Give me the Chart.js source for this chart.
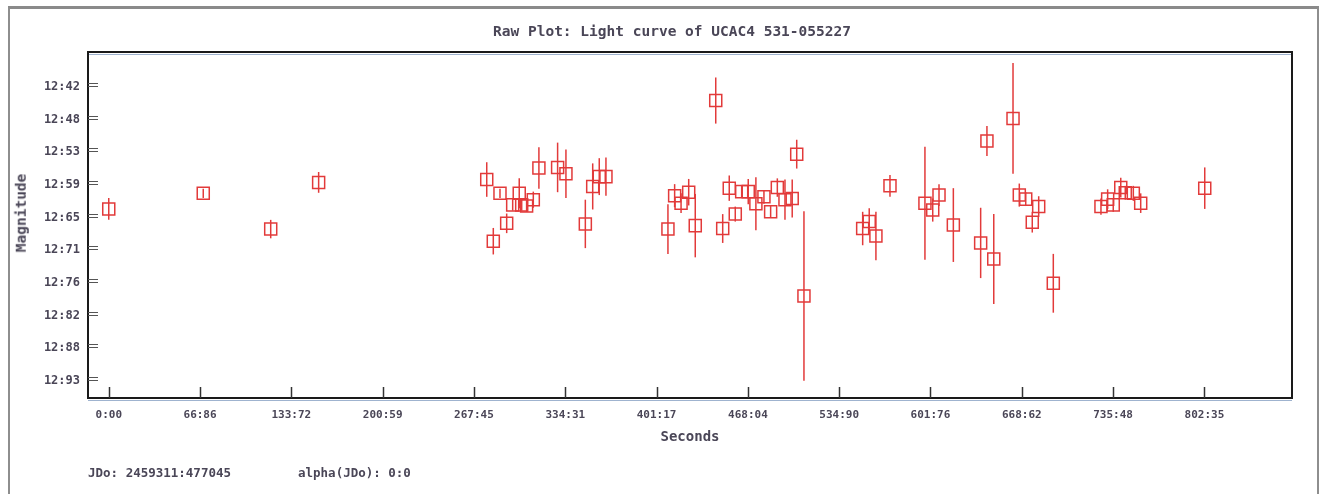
<!DOCTYPE html>
<html>
<head>
<meta charset="utf-8">
<script src="https://cdn.jsdelivr.net/npm/chart.js@4.4.1/dist/chart.umd.min.js"></script>
<style>
  html, body { margin: 0; padding: 0; background: #fff; }
  #wrap { position: relative; width: 1336px; height: 494px; overflow: hidden; }
  #frame { position: absolute; left: 8px; top: 6px; width: 1307px; height: 520px;
           border: 2px solid #8e8e8e; border-top: 3px solid #8a8a8a; }
  #chart { position: absolute; left: 0; top: 0; }
  .txt { position: absolute; font-family: "DejaVu Sans Mono", monospace; font-weight: bold;
         color: #4a4657; white-space: nowrap; }
  #title { left: 0; width: 1344px; top: 23px; text-align: center; font-size: 14.5px; }
  #ytitle { left: 21px; top: 213px; font-size: 14.5px; line-height: 1;
            transform: translate(-50%, -50%) rotate(-90deg); }
  #jd { left: 88px; top: 465px; font-size: 12.5px; }
  #alpha { left: 298px; top: 465px; font-size: 12.5px; }
</style>
</head>
<body>
<div id="wrap">
  <div id="frame"></div>
  <canvas id="chart" width="1336" height="494"></canvas>
  <div class="txt" id="title">Raw Plot: Light curve of UCAC4 531-055227</div>
  <div class="txt" id="ytitle">Magnitude</div>
  <div class="txt" id="jd">JDo: 2459311:477045</div>
  <div class="txt" id="alpha">alpha(JDo): 0:0</div>
</div>
<script>
// observation times (seconds from JDo)
const times = [
  0, 69.2, 118.6, 153.7, 276.8, 281.6, 286.5, 291.4, 295.8, 300.6,
  302.4, 306.0, 310.9, 315.0, 328.7, 334.8, 349.0, 354.4, 359.2, 364.1,
  409.5, 414.4, 419.1, 424.7, 429.5, 444.5, 449.6, 454.4, 458.8, 463.5,
  468.3, 473.9, 479.8, 484.7, 489.6, 495.2, 500.5, 503.8, 509.1, 552.1,
  556.9, 561.8, 572.1, 597.7, 603.4, 608.0, 618.5, 638.5, 643.1, 648.1,
  662.2, 666.8, 671.5, 676.3, 681.0, 691.7, 726.6, 731.5, 735.6, 741.1,
  744.4, 750.3, 755.7, 802.6
]
// magnitudes
const mags = [
  12.635, 12.608, 12.670, 12.589, 12.584, 12.691, 12.608, 12.660, 12.628, 12.608,
  12.628, 12.630, 12.619, 12.564, 12.563, 12.574, 12.661, 12.596, 12.579, 12.579,
  12.670, 12.612, 12.625, 12.606, 12.664, 12.447, 12.669, 12.599, 12.644, 12.605,
  12.605, 12.626, 12.614, 12.640, 12.598, 12.619, 12.617, 12.540, 12.786, 12.669,
  12.657, 12.682, 12.595, 12.625, 12.637, 12.611, 12.663, 12.694, 12.517, 12.722,
  12.478, 12.611, 12.618, 12.658, 12.631, 12.764, 12.631, 12.618, 12.628, 12.598,
  12.607, 12.608, 12.625, 12.599
]
// magnitude errors (half length of bar)
const errs = [
  0.019, 0.008, 0.016, 0.018, 0.030, 0.023, 0.008, 0.017, 0.010, 0.026,
  0.010, 0.010, 0.014, 0.036, 0.043, 0.042, 0.042, 0.040, 0.032, 0.033,
  0.043, 0.020, 0.017, 0.023, 0.055, 0.040, 0.025, 0.022, 0.013, 0.010,
  0.022, 0.046, 0.012, 0.010, 0.016, 0.035, 0.033, 0.025, 0.147, 0.029,
  0.023, 0.042, 0.019, 0.098, 0.020, 0.019, 0.064, 0.061, 0.026, 0.078,
  0.096, 0.020, 0.012, 0.018, 0.018, 0.051, 0.014, 0.017, 0.012, 0.017,
  0.012, 0.013, 0.017, 0.036
]

const xTickLabels = ["0:00", "66:86", "133:72", "200:59", "267:45", "334:31", "401:17",
  "468:04", "534:90", "601:76", "668:62", "735:48", "802:35"]
const xTickStep = 66.8625
const yTickLabels = ["12:42", "12:48", "12:53", "12:59", "12:65", "12:71", "12:76",
  "12:82", "12:88", "12:93"]
const yTickStart = 12.42
const yTickStep = 0.05667

const red = "rgb(226, 58, 58)"
const textColor = "#4a4657"

const errorBars = {
  id: "errorBars",
  afterDatasetsDraw(chart) {
    const ctx = chart.ctx
    const y = chart.scales.y
    const meta = chart.getDatasetMeta(0)
    ctx.save()
    ctx.strokeStyle = red
    ctx.lineWidth = 1.5
    meta.data.forEach((pt, i) => {
      const top = y.getPixelForValue(mags[i] - errs[i])
      const bot = y.getPixelForValue(mags[i] + errs[i])
      ctx.beginPath()
      ctx.moveTo(pt.x, top)
      ctx.lineTo(pt.x, bot)
      ctx.stroke()
    })
    ctx.restore()
  },
}

const axisMarks = {
  id: "axisMarks",
  afterDraw(chart) {
    const { ctx, chartArea: a, scales } = chart
    ctx.save()
    // frame
    ctx.strokeStyle = "#9fb3cf"
    ctx.lineWidth = 1
    ctx.beginPath()
    ctx.moveTo(a.left, a.top + 2.5)
    ctx.lineTo(a.right, a.top + 2.5)
    ctx.moveTo(a.left, a.bottom + 2.5)
    ctx.lineTo(a.right, a.bottom + 2.5)
    ctx.stroke()
    ctx.strokeStyle = "#1a1a1a"
    ctx.lineWidth = 2
    ctx.strokeRect(a.left, a.top, a.right - a.left, a.bottom - a.top)

    // inner tick marks
    ctx.strokeStyle = "#333"
    ctx.lineWidth = 1.5
    scales.x.ticks.forEach((t) => {
      const px = Math.round(scales.x.getPixelForValue(t.value)) + 0.5
      ctx.beginPath()
      ctx.moveTo(px, a.bottom)
      ctx.lineTo(px, a.bottom - 11)
      ctx.stroke()
    })
    ctx.strokeStyle = "#555"
    ctx.lineWidth = 1
    scales.y.ticks.forEach((t) => {
      const py = Math.round(scales.y.getPixelForValue(t.value))
      ctx.beginPath()
      ctx.moveTo(a.left, py - 1.5)
      ctx.lineTo(a.left + 10, py - 1.5)
      ctx.moveTo(a.left, py + 1.5)
      ctx.lineTo(a.left + 10, py + 1.5)
      ctx.stroke()
    })
    ctx.restore()
  },
}

const ctx = document.getElementById("chart").getContext("2d")
const lightCurve = new Chart(ctx, {
  type: "scatter",
  data: {
    datasets: [
      {
        label: "Magnitude",
        data: times.map((t, i) => ({ x: t, y: mags[i] })),
        pointStyle: "rect",
        pointRadius: 8.5,
        pointBorderWidth: 1.5,
        borderColor: red,
        backgroundColor: "rgba(0,0,0,0)",
      },
    ],
  },
  options: {
    responsive: false,
    animation: false,
    devicePixelRatio: 1,
    layout: {
      padding: { left: 12, right: 44, top: 52, bottom: 46 },
    },
    plugins: {
      legend: { display: false },
      tooltip: { enabled: false },
    },
    scales: {
      x: {
        type: "linear",
        min: -15.2,
        max: 866.5,
        afterBuildTicks: (scale) => {
          scale.ticks = xTickLabels.map((l, i) => ({ value: i * xTickStep }))
        },
        afterFit: (scale) => {
          scale.height = 50
        },
        grid: { display: false, drawTicks: false },
        border: { display: false },
        ticks: {
          autoSkip: false,
          maxRotation: 0,
          padding: 11,
          color: textColor,
          font: { family: "DejaVu Sans Mono", size: 11, weight: "bold" },
          callback: (v, i) => xTickLabels[i],
        },
        title: {
          display: true,
          text: "Seconds",
          color: textColor,
          padding: { top: 0, bottom: 2 },
          font: { family: "DejaVu Sans Mono", size: 14, weight: "bold" },
        },
      },
      y: {
        type: "linear",
        reverse: true,
        min: 12.3628,
        max: 12.963,
        afterBuildTicks: (scale) => {
          scale.ticks = yTickLabels.map((l, i) => ({ value: yTickStart + i * yTickStep }))
        },
        afterFit: (scale) => {
          scale.width = 76
        },
        grid: { display: false, drawTicks: false },
        border: { display: false },
        ticks: {
          autoSkip: false,
          padding: 8,
          labelOffset: 2,
          color: textColor,
          font: { family: "DejaVu Sans Mono", size: 12, weight: "bold" },
          callback: (v, i) => yTickLabels[i],
        },
        title: { display: false },
      },
    },
  },
  plugins: [errorBars, axisMarks],
})
</script>
</body>
</html>
